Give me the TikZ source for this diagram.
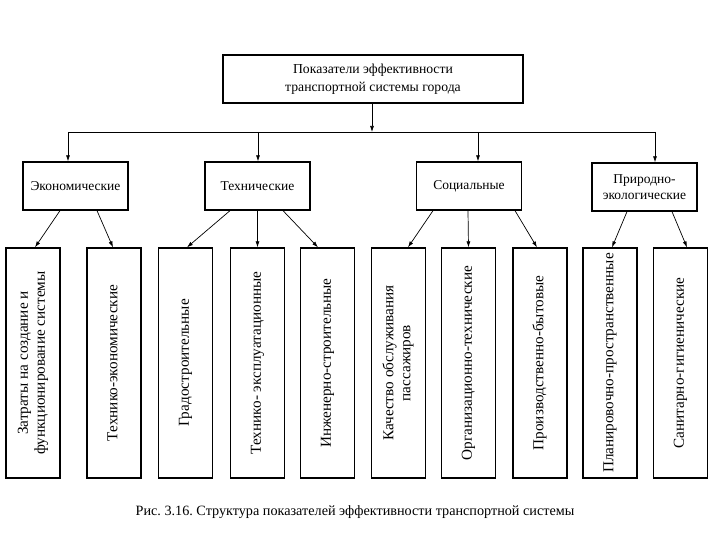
\documentclass[tikz,border=0pt]{standalone}
\usepackage{fontspec}
\setmainfont{Liberation Serif}
\usetikzlibrary{arrows.meta}
\frenchspacing
\newcommand{\vlabel}[1]{\rotatebox{90}{\begin{tabular}{@{}c@{}}#1\end{tabular}}}
\begin{document}
\begin{tikzpicture}[x=1pt,y=-1pt,
		box/.style={draw,line width=1.3pt,align=center,inner sep=0pt},
		groupbox/.style={box,minimum width=105pt,minimum height=48pt,font=\fontsize{13.5}{16}\selectfont},
		itembox/.style={box,minimum width=54pt,minimum height=230pt,font=\fontsize{15.2}{17}\selectfont},
		arr/.style={-{Latex[length=6pt,width=4pt]},line width=0.7pt}]
	\useasboundingbox (0,0) rectangle (720,540);
	% top
	\node[box,minimum width=300pt,minimum height=48pt,font=\fontsize{13.7}{18}\selectfont] (top) at (373,79) {Показатели эффективности\\транспортной системы города};
	% groups
	\node[groupbox] (eco) at (75.5,186) {Экономические};
	\node[groupbox] (tech) at (257.5,186) {Технические};
	\node[groupbox] (soc) at (469,186) {Социальные};
	\node[groupbox] (nat) at (644.5,187) {Природно-\\экологические};
	% items
	\node[itembox] (b1) at (33,363) {\vlabel{Затраты на создание и\\функционирование системы}};
	\node[itembox] (b2) at (114,363) {\vlabel{Технико-экономические}};
	\node[itembox] (b3) at (185.5,363) {\vlabel{Градостроительные}};
	\node[itembox] (b4) at (257.5,363) {\vlabel{Технико- эксплуатационные}};
	\node[itembox] (b5) at (327.5,363) {\vlabel{Инженерно-строительные}};
	\node[itembox] (b6) at (398.5,363) {\vlabel{Качество обслуживания\\пассажиров}};
	\node[itembox] (b7) at (468.5,363) {\vlabel{Организационно-технические}};
	\node[itembox] (b8) at (540,363) {\vlabel{Производственно-бытовые}};
	\node[itembox] (b9) at (610,363) {\vlabel{Планировочно-пространственные}};
	\node[itembox] (b10) at (680.5,363) {\vlabel{Санитарно-гигиенические}};
	% bus
	\coordinate (bus) at (372,132);
	\coordinate (bus1) at (68,132);
	\coordinate (bus2) at (258,132);
	\coordinate (bus3) at (478,132);
	\coordinate (bus4) at (655,132);
	\draw[arr] (top.south -| bus) -- (bus);
	\draw[line width=0.7pt] (bus1) -- (bus4);
	\draw[arr] (bus1) -- (bus1 |- eco.north);
	\draw[arr] (bus2) -- (bus2 |- tech.north);
	\draw[arr] (bus3) -- (bus3 |- soc.north);
	\draw[arr] (bus4) -- (bus4 |- nat.north);
	\foreach \g/\sg/\b/\sb in {eco/-15.5/b1/2, eco/21.5/b2/-1, tech/-27.5/b3/1.5, tech/0/b4/0, tech/25.5/b5/-9.5,
			soc/-36/b6/9.5, soc/-1/b7/0, soc/46/b8/-3, nat/-17.5/b9/2, nat/27.5/b10/6.5}
		\draw[arr] ([xshift=\sg pt]\g.south) -- ([xshift=\sb pt]\b.north);
	% caption
	\node[font=\fontsize{14.2}{16}\selectfont] (cap) at (355,512) {Рис. 3.16. Структура показателей эффективности транспортной системы};
\end{tikzpicture}
\end{document}
